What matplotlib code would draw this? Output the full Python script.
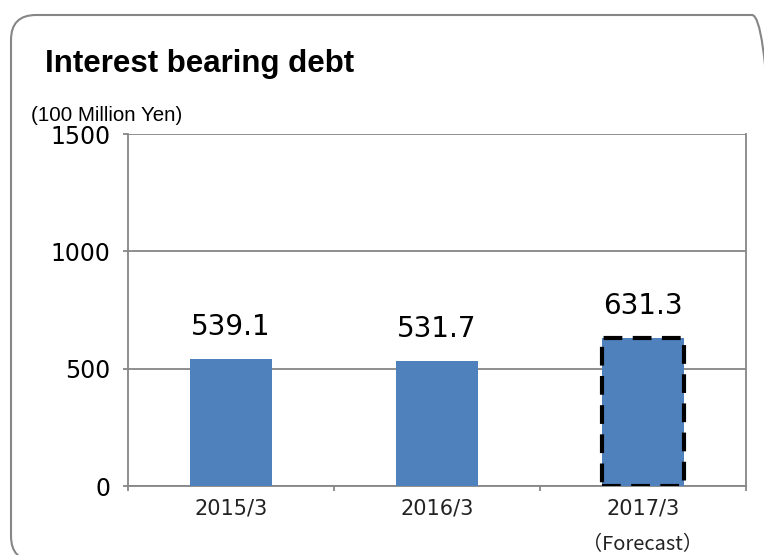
import numpy as np
import matplotlib.pyplot as plt
from matplotlib.patches import FancyBboxPatch

# data
periods = ["2015/3", "2016/3", "2017/3"]
debt = [539.1, 531.7, 631.3]
yticks = [0, 500, 1000, 1500]

grey = "#868686"
bar_color = "#4F81BD"

fig = plt.figure(figsize=(7.64, 5.55), dpi=100)
ax = fig.add_axes([128 / 764, 1 - 486 / 555, (746 - 128) / 764, (486 - 134) / 555])

x = np.arange(len(periods))
bars = ax.bar(x, debt, width=0.4, color=bar_color, zorder=3)

# forecast bar gets a dashed black outline
fc = bars[-1]
fc.set_edgecolor("black")
fc.set_linewidth(3)
fc.set_linestyle((0, (4.5, 2.5)))
fc.set_joinstyle("miter")

for xi, v in zip(x, debt):
    ax.annotate(f"{v:.1f}", xy=(xi, v), xytext=(0, 13), textcoords="offset points",
                ha="center", va="bottom", fontsize=20, family="DejaVu Sans")

ax.set_xlim(-0.5, len(periods) - 0.5)
ax.set_ylim(0, 1500)
ax.set_yticks(yticks)
ax.set_yticklabels([str(t) for t in yticks], fontsize=17, family="DejaVu Sans")
ax.set_xticks(x)
ax.set_xticklabels(periods, fontsize=15, family="DejaVu Sans", color="#222222")
ax.set_xticks(np.arange(len(periods) + 1) - 0.5, minor=True)
ax.tick_params(axis="x", which="major", length=0, pad=9)
ax.tick_params(axis="x", which="minor", length=3.6, color=grey, width=1.3)
ax.tick_params(axis="y", length=3.6, color=grey, width=1.3, pad=9)

ax.grid(axis="y", color=grey, linewidth=1.3, zorder=0)
for s in ["left", "right", "bottom"]:
    ax.spines[s].set_color(grey)
    ax.spines[s].set_linewidth(1.3)
ax.spines["top"].set_visible(False)

ax.text(2, -0.165, "（Forecast）", transform=ax.get_xaxis_transform(), ha="center", va="center",
        fontsize=14.5, family=["Noto Sans CJK JP", "DejaVu Sans"], color="#222222")

fig.text(45 / 764, 1 - 72 / 555, "Interest bearing debt", fontsize=22.5, fontweight="bold",
         family="Liberation Sans", ha="left", va="baseline")
fig.text(31 / 764, 1 - 121 / 555, "(100 Million Yen)", fontsize=14.8, family="Liberation Sans",
         ha="left", va="baseline")

# rounded frame around the whole panel
frame = FancyBboxPatch((0.11, -0.06), 7.66, 5.46, boxstyle="round,pad=0,rounding_size=0.25",
                       transform=fig.dpi_scale_trans, facecolor="none", edgecolor=grey,
                       linewidth=1.5, clip_on=False)
fig.patches.append(frame)

fig.savefig("out.png", dpi=100)
